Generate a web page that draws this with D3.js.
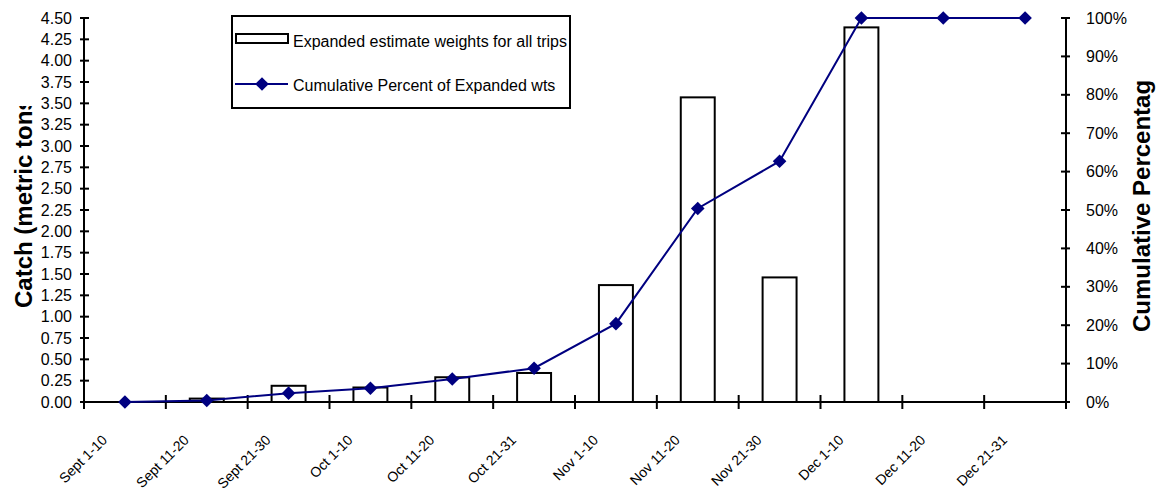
<!DOCTYPE html>
<html>
<head>
<meta charset="utf-8">
<script src="https://cdn.jsdelivr.net/npm/d3@7"></script>
<style>
  html, body { margin: 0; padding: 0; background: #fff; }
  svg { display: block; font-family: "Liberation Sans", Arial, sans-serif; }
</style>
</head>
<body>
<svg id="chart" width="1157" height="494"></svg>
<script>
// Ten-day periods of the season
const periods = ["Sept 1-10", "Sept 11-20", "Sept 21-30", "Oct 1-10", "Oct 11-20", "Oct 21-31",
                 "Nov 1-10", "Nov 11-20", "Nov 21-30", "Dec 1-10", "Dec 11-20", "Dec 21-31"];
// Expanded estimate weights for all trips (metric tons)
const catchTons = [0, 0.04, 0.19, 0.17, 0.29, 0.34, 1.37, 3.57, 1.46, 4.39, 0, 0];
// Cumulative percent of expanded weights
const cumulativePct = [0, 0.4, 2.3, 3.6, 6.0, 8.8, 20.4, 50.4, 62.7, 100, 100, 100];
// Axis tick values
const leftTicks = d3.range(0, 4.5001, 0.25);
const rightTicks = d3.range(0, 101, 10);

const seriesNames = ["Expanded estimate weights for all trips", "Cumulative Percent of Expanded wts"];
const leftTitle = "Catch (metric tons)";
const rightTitle = "Cumulative Percentage";

const svg = d3.select("#chart");
const plot = { left: 84, right: 1066, top: 18, bottom: 402 };
const navy = "#000080";

const x = d3.scaleBand().domain(periods).range([plot.left, plot.right]).paddingInner(0).paddingOuter(0);
const yL = d3.scaleLinear().domain([0, 4.5]).range([plot.bottom, plot.top]);
const yR = d3.scaleLinear().domain([0, 100]).range([plot.bottom, plot.top]);

const barW = x.bandwidth() * 0.415;

// Bars
svg.append("g").selectAll("rect").data(catchTons.map((v, i) => ({ p: periods[i], v })))
  .join("rect")
  .filter(d => d.v > 0)
  .attr("x", d => x(d.p) + x.bandwidth() / 2 - barW / 2)
  .attr("y", d => yL(d.v))
  .attr("width", barW)
  .attr("height", d => yL(0) - yL(d.v))
  .attr("fill", "#fff")
  .attr("stroke", "#000")
  .attr("stroke-width", 2);

// Left axis (crossing ticks)
const gL = svg.append("g");
gL.append("line").attr("x1", plot.left).attr("x2", plot.left)
  .attr("y1", plot.top).attr("y2", plot.bottom).attr("stroke", "#000").attr("stroke-width", 2);
gL.selectAll("line.t").data(leftTicks).join("line").attr("class", "t")
  .attr("x1", plot.left - 4).attr("x2", plot.left + 5)
  .attr("y1", d => yL(d)).attr("y2", d => yL(d))
  .attr("stroke", "#000").attr("stroke-width", 2);
gL.selectAll("text").data(leftTicks).join("text")
  .attr("x", plot.left - 12).attr("y", d => yL(d)).attr("dy", "0.35em")
  .attr("text-anchor", "end").attr("font-size", 16).attr("fill", "#000")
  .text(d => d3.format(".2f")(d));

// Right axis (crossing ticks)
const gR = svg.append("g");
gR.append("line").attr("x1", plot.right).attr("x2", plot.right)
  .attr("y1", plot.top).attr("y2", plot.bottom).attr("stroke", "#000").attr("stroke-width", 2);
gR.selectAll("line.t").data(rightTicks).join("line").attr("class", "t")
  .attr("x1", plot.right - 5).attr("x2", plot.right + 4)
  .attr("y1", d => yR(d)).attr("y2", d => yR(d))
  .attr("stroke", "#000").attr("stroke-width", 2);
gR.selectAll("text").data(rightTicks).join("text")
  .attr("x", plot.right + 20).attr("y", d => yR(d)).attr("dy", "0.35em")
  .attr("text-anchor", "start").attr("font-size", 16).attr("fill", "#000")
  .text(d => d + "%");

// Category axis with ticks between periods
const gX = svg.append("g");
gX.append("line").attr("x1", plot.left).attr("x2", plot.right)
  .attr("y1", plot.bottom).attr("y2", plot.bottom).attr("stroke", "#000").attr("stroke-width", 2);
const bounds = periods.map(p => x(p)).concat([plot.right]);
gX.selectAll("line.t").data(bounds).join("line").attr("class", "t")
  .attr("x1", d => d).attr("x2", d => d)
  .attr("y1", plot.bottom - 7).attr("y2", plot.bottom + 7)
  .attr("stroke", "#000").attr("stroke-width", 2);
gX.selectAll("text").data(periods).join("text")
  .attr("transform", d => `translate(${x(d) + x.bandwidth() / 2 - 17},${plot.bottom + 39}) rotate(-45)`)
  .attr("text-anchor", "end").attr("font-size", 14).attr("fill", "#000")
  .text(d => d);

// Cumulative line with diamond markers
const diamond = r => `M0,${-r}L${r},0L0,${r}L${-r},0Z`;
const pts = cumulativePct.map((v, i) => ({ p: periods[i], v }));
svg.append("path").datum(pts)
  .attr("d", d3.line().x(d => x(d.p) + x.bandwidth() / 2).y(d => yR(d.v)))
  .attr("fill", "none").attr("stroke", navy).attr("stroke-width", 2);
svg.append("g").selectAll("path").data(pts).join("path")
  .attr("transform", d => `translate(${x(d.p) + x.bandwidth() / 2},${yR(d.v)})`)
  .attr("d", diamond(6.8)).attr("fill", navy);

// Axis titles, clipped where they run out of room
const defs = svg.append("defs");
defs.append("clipPath").attr("id", "clipL").append("rect")
  .attr("x", 0).attr("y", 106).attr("width", 60).attr("height", 388);
defs.append("clipPath").attr("id", "clipR").append("rect")
  .attr("x", 1100).attr("y", 79).attr("width", 57).attr("height", 415);
svg.append("g").attr("clip-path", "url(#clipL)")
  .append("text").attr("transform", "translate(32,308) rotate(-90)")
  .attr("font-size", 24).attr("font-weight", "bold").attr("fill", "#000")
  .text(leftTitle);
svg.append("g").attr("clip-path", "url(#clipR)")
  .append("text").attr("transform", "translate(1150,332) rotate(-90)")
  .attr("font-size", 24).attr("font-weight", "bold").attr("fill", "#000")
  .text(rightTitle);

// Legend
const lg = svg.append("g");
lg.append("rect").attr("x", 232).attr("y", 16).attr("width", 338).attr("height", 92)
  .attr("fill", "#fff").attr("stroke", "#000").attr("stroke-width", 2);
lg.append("rect").attr("x", 236).attr("y", 34).attr("width", 52).attr("height", 9)
  .attr("fill", "#fff").attr("stroke", "#000").attr("stroke-width", 2);
lg.append("text").attr("x", 293).attr("y", 47).attr("font-size", 16).attr("fill", "#000").text(seriesNames[0]);
lg.append("line").attr("x1", 235).attr("x2", 288).attr("y1", 84).attr("y2", 84)
  .attr("stroke", navy).attr("stroke-width", 2);
lg.append("path").attr("transform", "translate(262,84)").attr("d", diamond(6.8)).attr("fill", navy);
lg.append("text").attr("x", 293).attr("y", 90.5).attr("font-size", 16).attr("fill", "#000").text(seriesNames[1]);
</script>
</body>
</html>
